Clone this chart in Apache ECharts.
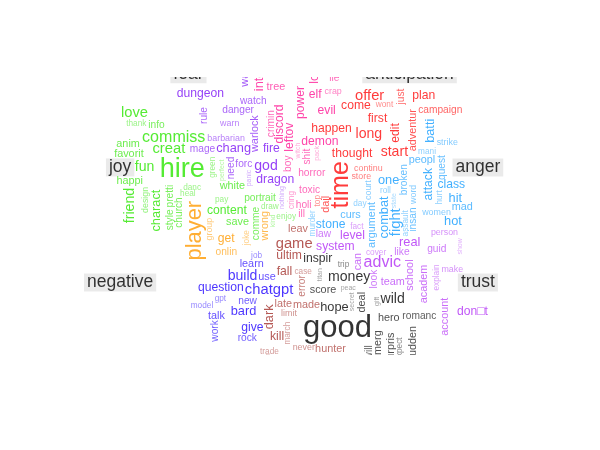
<!DOCTYPE html>
<html>
<head>
<meta charset="utf-8">
<script src="https://cdn.jsdelivr.net/npm/echarts@6/dist/echarts.min.js"></script>
<style>
html, body { margin: 0; padding: 0; background: #fff; }
#main { width: 600px; height: 450px; }
</style>
</head>
<body>
<div id="main"></div>
<script>
// groups of the comparison cloud, in sector order (counter-clockwise from the right)
var groupNames = ['anger', 'anticipation', 'disgust', 'fear', 'joy', 'negative', 'positive', 'sadness', 'surprise', 'trust'];

var angerWords = ['fight', 'combat', 'attack', 'batti', 'argument', 'stone', 'class', 'hit', 'one', 'hot', 'curs', 'mad', 'insan', 'broken', 'quest', 'peopl', 'women', 'mani', 'strike', 'roll', 'day', 'hurt', 'assault', 'word', 'court', 'murder', 'state'];
var angerFreq = [15, 12, 11, 12, 9, 11, 11, 12, 12, 12, 9, 9, 8, 8, 8, 9, 6, 5, 6, 5, 5, 5, 5, 6, 6, 5, 3];

var anticipationWords = ['time', 'start', 'first', 'come', 'thought', 'campaign', 'just', 'edit', 'top', 'adventur', 'long', 'offer', 'plan', 'happen', 'dail', 'wont', 'store', 'continu'];
var anticipationFreq = [31, 14, 11, 11, 11, 8, 8, 11, 5, 9, 14, 15, 11, 11, 9, 5, 6, 6];

var disgustWords = ['demon', 'interest', 'discord', 'leftov', 'evil', 'power', 'lord', 'boy', 'crimin', 'cring', 'witch', 'crap', 'holi', 'lie', 'ill', 'toxic', 'vampir', 'tree', 'elf', 'shit', 'pack', 'horror'];
var disgustFreq = [11, 12, 11, 11, 11, 11, 11, 8, 8, 5, 3, 6, 8, 8, 8, 8, 9, 9, 11, 8, 3, 8];

var fearWords = ['chang', 'need', 'warn', 'danger', 'warlock', 'watch', 'dungeon', 'barbarian', 'mage', 'fire', 'rule', 'god', 'monster', 'dragon', 'forc', 'war', 'nothing', 'panic'];
var fearFreq = [12, 8, 6, 8, 9, 8, 11, 6, 8, 11, 8, 14, 11, 11, 8, 9, 3, 3];

var joyWords = ['hire', 'creat', 'commiss', 'fun', 'content', 'love', 'friend', 'favorit', 'info', 'comme', 'pretti', 'perfect', 'draw', 'design', 'green', 'portrait', 'church', 'happi', 'thank', 'danc', 'white', 'pay', 'enjoy', 'heal', 'kind', 'style', 'charact', 'save', 'anim'];
var joyFreq = [34, 15, 17, 14, 11, 15, 14, 9, 8, 8, 8, 3, 5, 6, 5, 8, 8, 9, 5, 5, 9, 5, 5, 5, 3, 8, 12, 9, 9];

var negativeWords = ['player', 'wrong', 'joke', 'group', 'onlin', 'get'];
var negativeFreq = [26, 9, 5, 6, 8, 11];

var positiveWords = ['chatgpt', 'bard', 'build', 'question', 'give', 'learn', 'new', 'rock', 'use', 'job', 'model', 'work', 'gpt', 'talk'];
var positiveFreq = [15, 12, 14, 11, 11, 9, 8, 8, 9, 5, 5, 8, 5, 9];

var sadnessWords = ['game', 'dark', 'error', 'fall', 'late', 'limit', 'case', 'die', 'hunter', 'made', 'ultim', 'leav', 'never', 'march', 'kill', 'trade'];
var sadnessFreq = [15, 12, 8, 11, 9, 6, 5, 6, 9, 9, 11, 9, 6, 5, 11, 5];

var surpriseWords = ['good', 'money', 'hope', 'wild', 'guess', 'inspir', 'score', 'comm', 'hero', 'romanc', 'will', 'surpris', 'emerg', 'sudden', 'trip', 'mysteri', 'project', 'expect', 'peac', 'secret', 'titan', 'gift', 'deal'];
var surpriseFreq = [40, 14, 12, 14, 14, 11, 9, 9, 9, 8, 8, 9, 9, 9, 5, 5, 9, 5, 3, 3, 3, 3, 9];

var trustWords = ['advic', 'real', 'like', 'guid', 'fact', 'cover', 'team', 'look', 'show', 'don\u25A1t', 'level', 'system', 'law', 'account', 'academ', 'can', 'school', 'person', 'explain', 'make'];
var trustFreq = [17, 12, 8, 8, 5, 5, 9, 8, 3, 11, 11, 11, 8, 9, 9, 9, 9, 6, 5, 6];

// words drawn vertically
var verticalWords = ['fight', 'combat', 'attack', 'batti', 'argument', 'insan', 'broken', 'quest', 'hurt', 'assault', 'word', 'court', 'murder', 'state',
    'time', 'just', 'edit', 'top', 'adventur', 'dail',
    'interest', 'discord', 'leftov', 'power', 'lord', 'boy', 'crimin', 'cring', 'witch', 'shit', 'pack',
    'need', 'warlock', 'rule', 'war', 'nothing', 'panic',
    'friend', 'comme', 'pretti', 'perfect', 'design', 'green', 'church', 'kind', 'style', 'charact',
    'player', 'wrong', 'joke', 'group', 'work', 'dark', 'error', 'march',
    'will', 'surpris', 'emerg', 'sudden', 'project', 'expect', 'secret', 'titan', 'gift', 'deal',
    'look', 'show', 'account', 'academ', 'can', 'school', 'explain'];

var groupColors = ['#139CFF', '#FF0A0A', '#FF1493', '#7B10F5', '#2BE600', '#FF9A00', '#1E00FF', '#A3302A', '#000000', '#B02CF5'];

var allWords = [angerWords, anticipationWords, disgustWords, fearWords, joyWords, negativeWords, positiveWords, sadnessWords, surpriseWords, trustWords];
var allFreq = [angerFreq, anticipationFreq, disgustFreq, fearFreq, joyFreq, negativeFreq, positiveFreq, sadnessFreq, surpriseFreq, trustFreq];

var GRID = {left: 90, top: 18, width: 418, height: 414};
var FONT = '"Liberation Sans", Arial, sans-serif';
var TITLE_SIZE = 17.5;
var SEED = 12;

var measureCtx = document.createElement('canvas').getContext('2d');
function textWidth(text, size) {
    measureCtx.font = size + 'px ' + FONT;
    return measureCtx.measureText(text).width;
}

function makeRandom(seed) {
    return function () {
        seed = seed + 0x6D2B79F5 | 0;
        var t = Math.imul(seed ^ seed >>> 15, 1 | seed);
        t = t + Math.imul(t ^ t >>> 7, 61 | t) ^ t;
        return ((t ^ t >>> 14) >>> 0) / 4294967296;
    };
}

function lighten(hex, t) {
    var n = parseInt(hex.slice(1), 16);
    var r = n >> 16, g = (n >> 8) & 255, b = n & 255;
    r = Math.round(r + (255 - r) * t);
    g = Math.round(g + (255 - g) * t);
    b = Math.round(b + (255 - b) * t);
    return 'rgb(' + r + ',' + g + ',' + b + ')';
}

function fontSizeOf(freq) {
    return 5 + 0.65 * freq;
}

function colorOf(group, freq) {
    var t = Math.min(1, Math.max(0, (11 - freq) / 8)) * 0.55;
    return lighten(groupColors[group], t);
}

// spiral layout, same idea as wordcloud::comparison.cloud with random.order = TRUE
function layoutCloud() {
    var rand = makeRandom(SEED);
    var n = groupNames.length;
    var bins = [];
    for (var i = 0; i <= n; i++) bins.push(2 * Math.PI * i / n);
    var boxes = [];
    var titles = [];
    for (var i = 0; i < n; i++) {
        var th = (bins[i] + bins[i + 1]) / 2;
        var x1 = 0.5 + 0.45 * Math.cos(th);
        var y1 = 0.5 + 0.45 * Math.sin(th);
        var w = (textWidth(groupNames[i], TITLE_SIZE) + 6) / GRID.width;
        var h = 18 / GRID.height;
        boxes.push([x1 - w / 2, y1 - h / 2, w, h]);
        titles.push({name: groupNames[i], value: [x1, y1]});
    }

    var words = [];
    for (var g = 0; g < n; g++) {
        for (var k = 0; k < allWords[g].length; k++) {
            words.push({word: allWords[g][k], group: g, freq: allFreq[g][k], order: rand()});
        }
    }
    words.sort(function (a, b) { return a.order - b.order; });

    var placed = [];
    var thetaStep = 0.1, rStep = 0.05;
    words.forEach(function (wd) {
        var fs = fontSizeOf(wd.freq);
        var vertical = verticalWords.indexOf(wd.word) >= 0;
        var wPx = textWidth(wd.word, fs);
        var hPx = 0.75 * fs * (/[gjpqy]/.test(wd.word) ? 1.2 : 1);
        var w, h;
        if (vertical) { w = hPx / GRID.width; h = wPx / GRID.height; }
        else { w = wPx / GRID.width; h = hPx / GRID.height; }
        var r = 0;
        var theta = rand() * 2 * Math.PI;
        var x = 0.5, y = 0.5;
        while (true) {
            var inRegion = theta > bins[wd.group] && theta < bins[wd.group + 1];
            if (inRegion && x - w / 2 > 0 && y - h / 2 > 0 && x + w / 2 < 1 && y + h / 2 < 1) {
                var x0 = x - w / 2, y0 = y - h / 2, hit = false;
                for (var b = 0; b < boxes.length; b++) {
                    var bx = boxes[b];
                    if (x0 < bx[0] + bx[2] && x0 + w > bx[0] && y0 < bx[1] + bx[3] && y0 + h > bx[1]) { hit = true; break; }
                }
                if (!hit) {
                    boxes.push([x0, y0, w, h]);
                    placed.push({
                        name: wd.word,
                        value: [x, y],
                        label: {fontSize: fs, color: colorOf(wd.group, wd.freq), rotate: vertical ? 90 : 0}
                    });
                    break;
                }
            }
            if (r > 0.75) break;
            theta += thetaStep;
            if (theta > 2 * Math.PI) theta -= 2 * Math.PI;
            r += rStep * thetaStep / (2 * Math.PI);
            x = 0.5 + r * Math.cos(theta);
            y = 0.5 + r * Math.sin(theta);
        }
    });
    return {words: placed, titles: titles};
}

var cloud = layoutCloud();
var myChart = echarts.init(document.getElementById('main'));
var option = {
    animation: false,
    backgroundColor: '#ffffff',
    grid: GRID,
    xAxis: {type: 'value', min: 0, max: 1, show: false},
    yAxis: {type: 'value', min: 0, max: 1, show: false},
    series: [
        {
            type: 'scatter',
            silent: true,
            symbolSize: 1,
            itemStyle: {color: 'rgba(0,0,0,0)'},
            label: {
                show: true,
                position: 'inside',
                formatter: '{b}',
                fontFamily: FONT,
                align: 'center',
                verticalAlign: 'middle',
                backgroundColor: '#E5E5E5',
                padding: [0, 3],
                lineHeight: 18,
                fontSize: TITLE_SIZE,
                color: '#000'
            },
            data: cloud.titles
        },
        {
            type: 'scatter',
            silent: true,
            symbolSize: 1,
            itemStyle: {color: 'rgba(0,0,0,0)'},
            label: {
                show: true,
                position: 'inside',
                formatter: '{b}',
                fontFamily: FONT,
                align: 'center',
                verticalAlign: 'middle'
            },
            data: cloud.words
        }
    ],
    // the reference picture is cut off above and below
    graphic: [
        {type: 'rect', z: 100, shape: {x: 0, y: 0, width: 600, height: 77}, style: {fill: '#fff'}},
        {type: 'rect', z: 100, shape: {x: 0, y: 355, width: 600, height: 95}, style: {fill: '#fff'}}
    ]
};
myChart.setOption(option);
</script>
</body>
</html>
